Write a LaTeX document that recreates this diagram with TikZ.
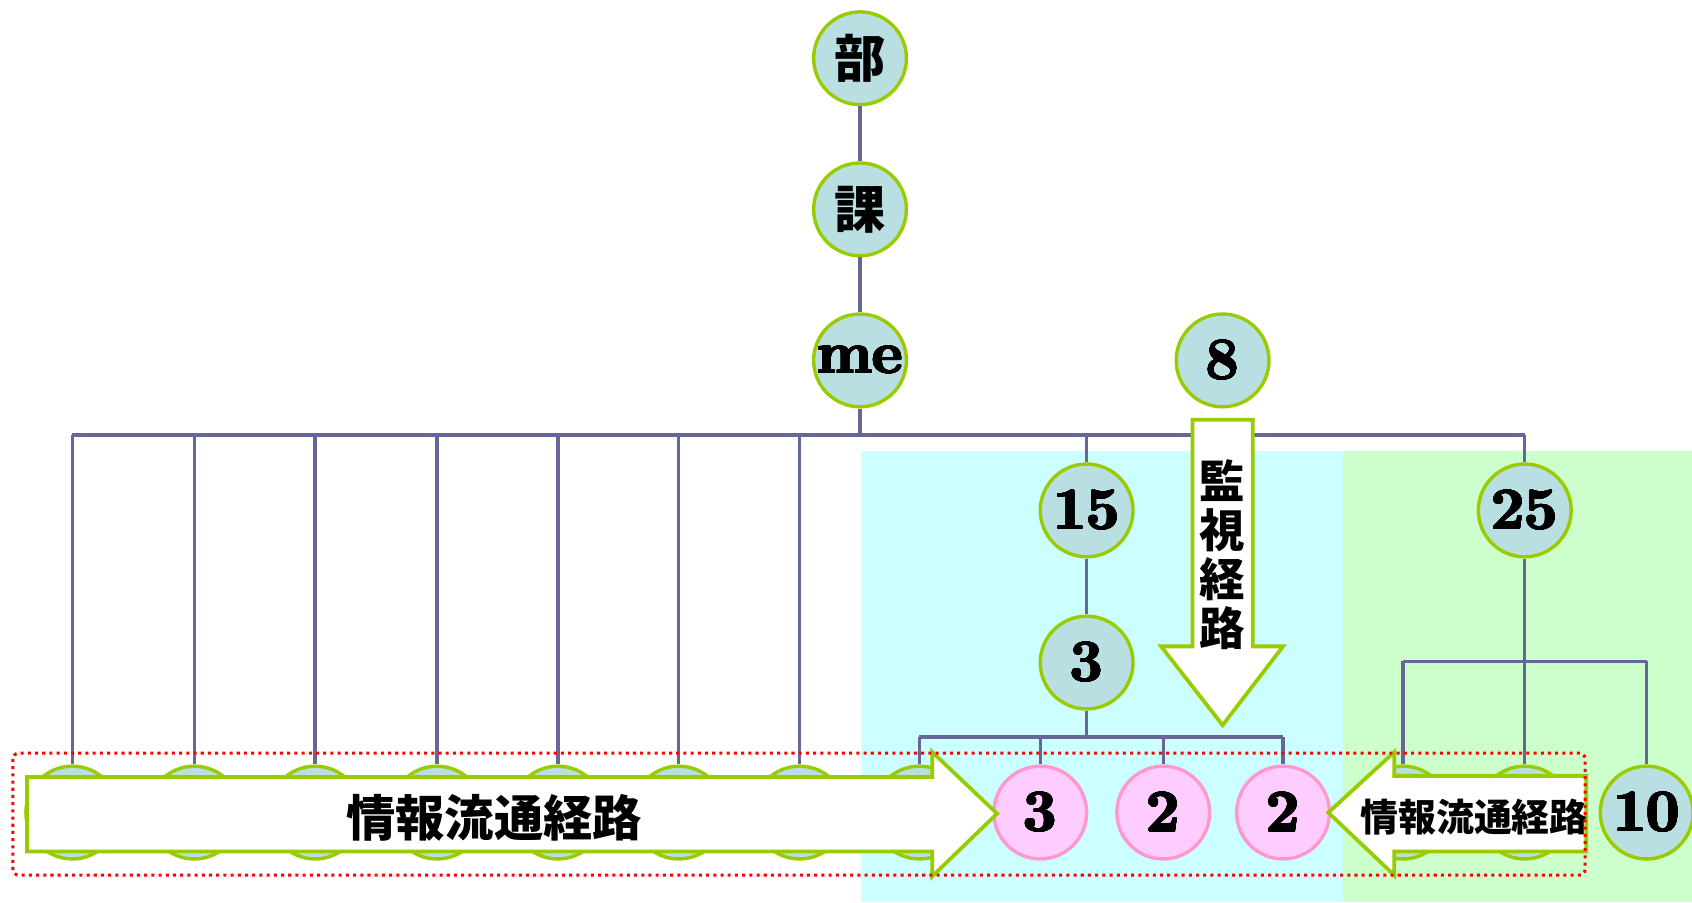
\documentclass[tikz,border=0pt]{standalone}
\usepackage{fontspec}
\usepackage[copies]{contour}
\contourlength{0.45pt}
\contournumber{24}
\newfontfamily\jp{Noto Sans CJK JP}
\newcommand\fatnum[1]{\contour{black}{#1}}
\definecolor{unitfill}{HTML}{B9DFE3}
\definecolor{unitline}{HTML}{99CC00}
\definecolor{pinkfill}{HTML}{FFCCFF}
\definecolor{pinkline}{HTML}{FF99CC}
\definecolor{linkcol}{HTML}{666699}
\definecolor{cyanbg}{HTML}{CCFFFF}
\definecolor{greenbg}{HTML}{CCFFCC}
\tikzset{
    unit/.style={circle, draw=unitline, fill=unitfill, line width=1.8pt, minimum size=1.72cm, inner sep=0pt, font=\fontsize{31}{31}\selectfont\bfseries},
    pinkunit/.style={unit, draw=pinkline, fill=pinkfill},
    kanjiunit/.style={unit, font=\fontsize{27}{27}\selectfont\jp\bfseries},
    link/.style={draw=linkcol, line width=1.8pt},
    flowarrow/.style={draw=unitline, fill=white, line width=2pt, line join=miter},
    redframe/.style={draw=red, line width=1.6pt, dash pattern=on 1.6pt off 2.2pt, rounded corners=3pt}
}
\begin{document}
\begin{tikzpicture}[x=0.02cm, y=-0.02cm]
        \useasboundingbox (0,0) rectangle (1568,836);

        % areas
        \fill [cyanbg] (798,418) rectangle (1245,836);
        \fill [greenbg] (1245,418) rectangle (1568,836);

        % nodes
        \node [kanjiunit] (bu) at (797,54) {部};
        \node [kanjiunit] (ka) at (797,194) {課};
        \node [unit] (me) at (797,334) {\fatnum{me}};
        \node [unit] (n8) at (1133,334) {\fatnum{8}};
        \node [unit] (n15) at (1007,473) {\fatnum{15}};
        \node [unit] (n3) at (1007,614) {\fatnum{3}};
        \node [unit] (n25) at (1413,473) {\fatnum{25}};
        \node [unit] (n10) at (1526,753) {\fatnum{10}};

        \node [unit] (m1) at (67,753) {};
        \node [unit] (m2) at (180,753) {};
        \node [unit] (m3) at (292,753) {};
        \node [unit] (m4) at (405,753) {};
        \node [unit] (m5) at (517,753) {};
        \node [unit] (m6) at (629,753) {};
        \node [unit] (m7) at (741,753) {};
        \node [unit] (m8) at (852,753) {};
        \node [unit] (g1) at (1300,753) {};
        \node [unit] (g2) at (1413,753) {};

        \node [pinkunit] (p1) at (964,753) {\fatnum{3}};
        \node [pinkunit] (p2) at (1078,753) {\fatnum{2}};
        \node [pinkunit] (p3) at (1189,753) {\fatnum{2}};

        \coordinate (bus) at (797,403);
        \coordinate (fork3) at (1007,683);
        \coordinate (fork25) at (1413,613);

        % links
        \draw [link] (bu) -- (ka);
        \draw [link] (ka) -- (me);
        \draw [link] (me) -- (bus);
        \draw [link] (m1 |- bus) -- (n25 |- bus);
        \draw [link] (m1) -- (m1 |- bus);
        \draw [link] (m2) -- (m2 |- bus);
        \draw [link] (m3) -- (m3 |- bus);
        \draw [link] (m4) -- (m4 |- bus);
        \draw [link] (m5) -- (m5 |- bus);
        \draw [link] (m6) -- (m6 |- bus);
        \draw [link] (m7) -- (m7 |- bus);
        \draw [link] (n15) -- (n15 |- bus);
        \draw [link] (n15) -- (n3);
        \draw [link] (n3) -- (fork3);
        \draw [link] (m8 |- fork3) -- (p3 |- fork3);
        \draw [link] (m8) -- (m8 |- fork3);
        \draw [link] (p1) -- (p1 |- fork3);
        \draw [link] (p2) -- (p2 |- fork3);
        \draw [link] (p3) -- (p3 |- fork3);
        \draw [link] (n25) -- (n25 |- bus);
        \draw [link] (n25) -- (fork25);
        \draw [link] (g1 |- fork25) -- (n10 |- fork25);
        \draw [link] (g1) -- (g1 |- fork25);
        \draw [link] (g2) -- (fork25);
        \draw [link] (n10) -- (n10 |- fork25);

        % arrows
        \draw [flowarrow] (25,720) -- (864,720) -- (864,697) -- (924,754) -- (864,812) -- (864,789) -- (25,789) -- cycle;
        \node [font=\fontsize{26}{26}\selectfont\jp\bfseries] (flowmain) at (458,758) {情報流通経路};

        \draw [flowarrow] (1470,719) -- (1292,719) -- (1292,697) -- (1231,753) -- (1292,811) -- (1292,789) -- (1470,789) -- cycle;
        \node [font=\fontsize{20}{20}\selectfont\jp\bfseries] (flowside) at (1366,757) {情報流通経路};

        \draw [flowarrow] (1105,389) -- (1161,389) -- (1161,599) -- (1189,599) -- (1133,672) -- (1076,599) -- (1105,599) -- cycle;
        \node [font=\fontsize{24}{26}\selectfont\jp\bfseries, align=center, inner sep=0pt] (watch) at (1133,514) {監\\視\\経\\路};

        \draw [redframe] (12,698) rectangle (1469,811);
    \end{tikzpicture}
\end{document}
